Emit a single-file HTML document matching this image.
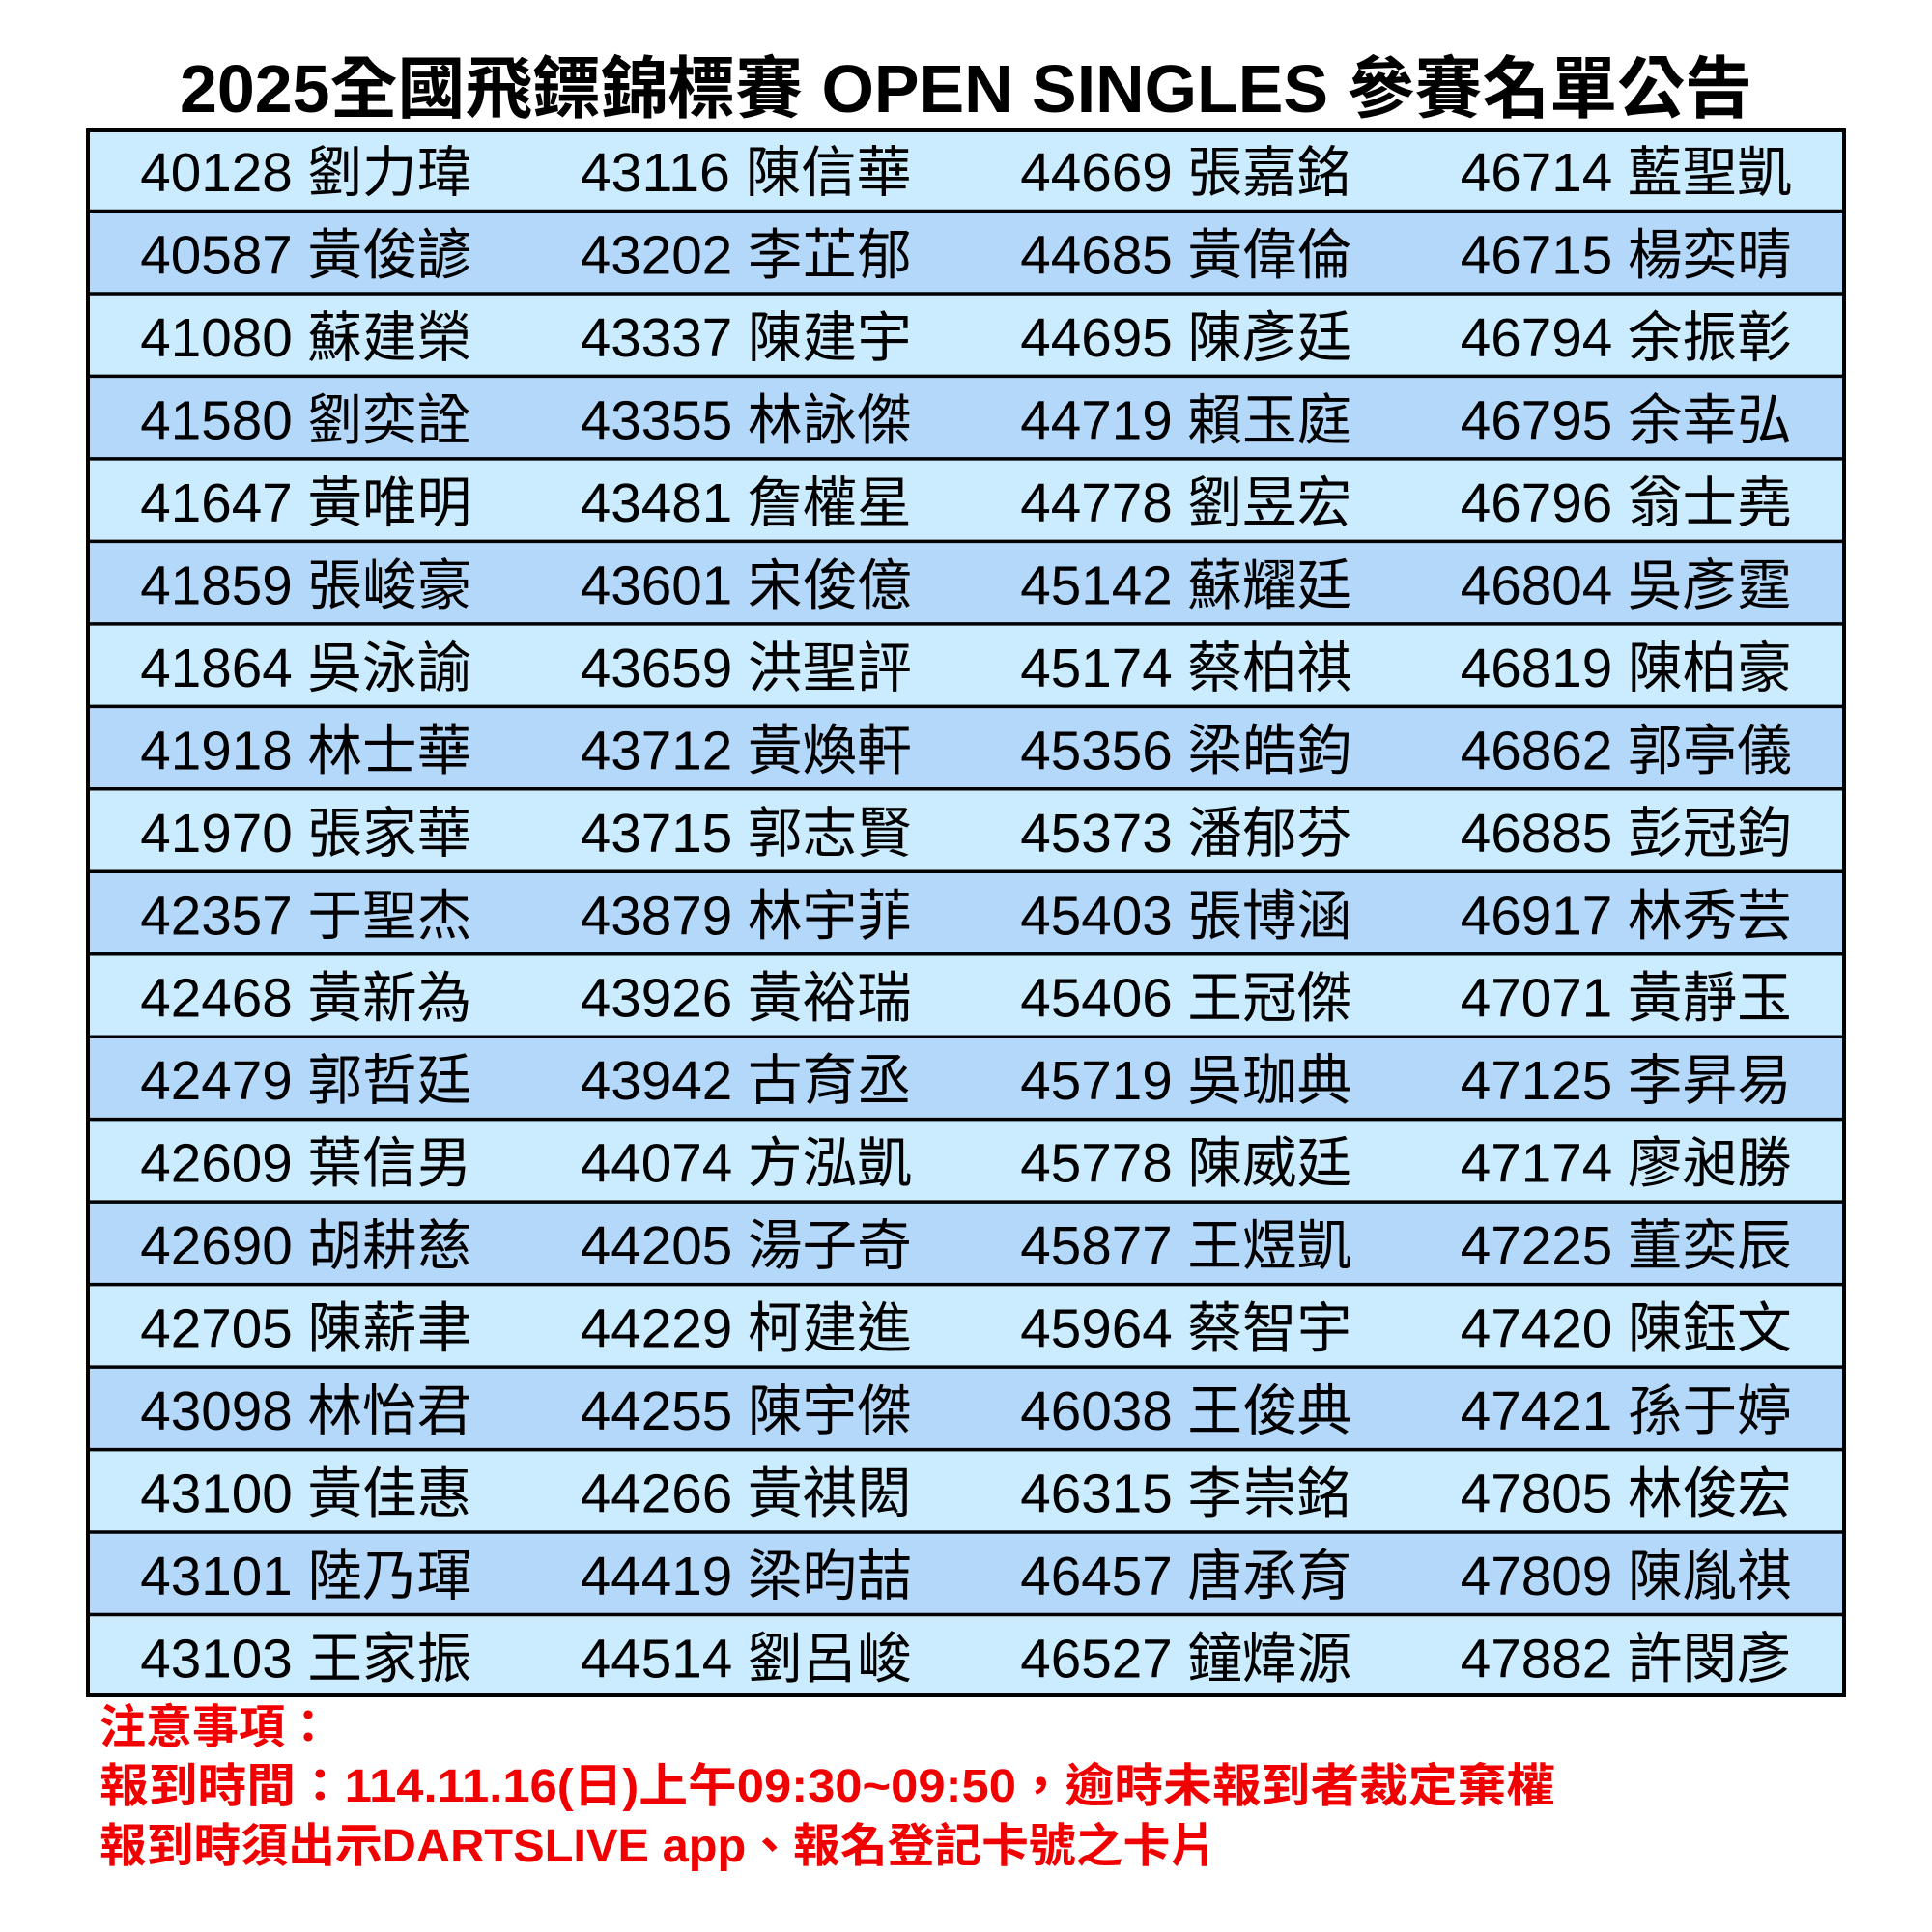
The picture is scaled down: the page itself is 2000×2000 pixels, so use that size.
<!DOCTYPE html>
<html><head><meta charset="utf-8"><style>
html,body{margin:0;padding:0;background:#fff;}
svg{display:block;}
.t{font-family:"Liberation Sans","Noto Sans CJK TC",sans-serif;font-size:57px;fill:#000;}
.h{font-family:"Liberation Sans","Noto Sans CJK TC",sans-serif;font-size:70px;font-weight:bold;fill:#000;}
.r{font-family:"Liberation Sans","Noto Sans CJK TC",sans-serif;font-size:48px;font-weight:bold;fill:#f00000;}
</style></head><body>
<svg width="2000" height="2000" viewBox="0 0 2000 2000" xmlns="http://www.w3.org/2000/svg">
<rect width="2000" height="2000" fill="#fff"/>
<text class="h" x="1000" y="116" text-anchor="middle" textLength="1628" lengthAdjust="spacingAndGlyphs">2025全國飛鏢錦標賽 OPEN SINGLES 參賽名單公告</text>
<g id="rows"></g>
<g id="txt"></g>
<rect x="91" y="135" width="1818" height="1620" fill="none" stroke="#000" stroke-width="4"/>
<text class="r" x="103" y="1804">注意事項：</text>
<text class="r" x="103" y="1865" textLength="1507" lengthAdjust="spacingAndGlyphs">報到時間：114.11.16(日)上午09:30~09:50，逾時未報到者裁定棄權</text>
<text class="r" x="103" y="1927" textLength="1157" lengthAdjust="spacingAndGlyphs">報到時須出示DARTSLIVE app、報名登記卡號之卡片</text>
</svg>
<script>
var cols=[
["40128 劉力瑋","40587 黃俊諺","41080 蘇建榮","41580 劉奕詮","41647 黃唯明","41859 張峻豪","41864 吳泳諭","41918 林士華","41970 張家華","42357 于聖杰","42468 黃新為","42479 郭哲廷","42609 葉信男","42690 胡耕慈","42705 陳薪聿","43098 林怡君","43100 黃佳惠","43101 陸乃琿","43103 王家振"],
["43116 陳信華","43202 李芷郁","43337 陳建宇","43355 林詠傑","43481 詹權星","43601 宋俊億","43659 洪聖評","43712 黃煥軒","43715 郭志賢","43879 林宇菲","43926 黃裕瑞","43942 古育丞","44074 方泓凱","44205 湯子奇","44229 柯建進","44255 陳宇傑","44266 黃祺閎","44419 梁昀喆","44514 劉呂峻"],
["44669 張嘉銘","44685 黃偉倫","44695 陳彥廷","44719 賴玉庭","44778 劉昱宏","45142 蘇耀廷","45174 蔡柏祺","45356 梁皓鈞","45373 潘郁芬","45403 張博涵","45406 王冠傑","45719 吳珈典","45778 陳威廷","45877 王煜凱","45964 蔡智宇","46038 王俊典","46315 李崇銘","46457 唐承育","46527 鐘煒源"],
["46714 藍聖凱","46715 楊奕晴","46794 余振彰","46795 余幸弘","46796 翁士堯","46804 吳彥霆","46819 陳柏豪","46862 郭亭儀","46885 彭冠鈞","46917 林秀芸","47071 黃靜玉","47125 李昇易","47174 廖昶勝","47225 董奕辰","47420 陳鈺文","47421 孫于婷","47805 林俊宏","47809 陳胤祺","47882 許閔彥"]
];
var NS="http://www.w3.org/2000/svg";
var rows=document.getElementById("rows"),txt=document.getElementById("txt");
var top0=133,rh=(1757-133)/19,L=89,W=1822,cw=W/4;
for(var i=0;i<19;i++){
  var y=top0+i*rh;
  var r=document.createElementNS(NS,"rect");
  r.setAttribute("x",L);r.setAttribute("y",y);r.setAttribute("width",W);r.setAttribute("height",rh);
  r.setAttribute("fill",i%2==0?"#cbebff":"#b4d8fa");
  rows.appendChild(r);
  if(i>0){
    var ln=document.createElementNS(NS,"line");
    ln.setAttribute("x1",L);ln.setAttribute("x2",L+W);ln.setAttribute("y1",y);ln.setAttribute("y2",y);
    ln.setAttribute("stroke","#000");ln.setAttribute("stroke-width","3.5");
    rows.appendChild(ln);
  }
  for(var c=0;c<4;c++){
    var t=document.createElementNS(NS,"text");
    t.setAttribute("class","t");
    t.setAttribute("x",L+cw*(c+0.5));
    t.setAttribute("y",y+65);
    t.setAttribute("text-anchor","middle");
    t.setAttribute("textLength","343");
    t.setAttribute("lengthAdjust","spacingAndGlyphs");
    t.textContent=cols[c][i];
    txt.appendChild(t);
  }
}
</script>
</body></html>
